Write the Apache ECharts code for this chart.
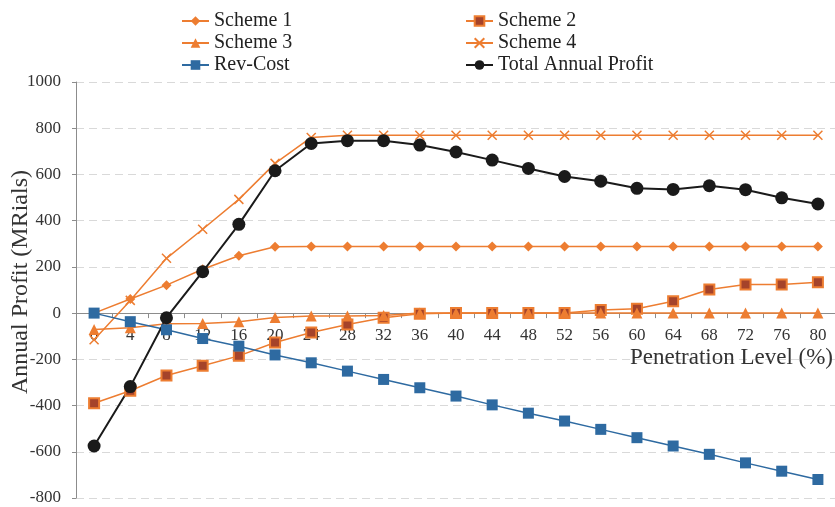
<!DOCTYPE html>
<html>
<head>
<meta charset="utf-8">
<script src="https://cdn.jsdelivr.net/npm/echarts@6/dist/echarts.min.js"></script>
<style>
  html, body { margin: 0; padding: 0; background: #fff; }
  #chart { width: 835px; height: 507px; }
</style>
</head>
<body>
<div id="chart"></div>
<script>
// Penetration levels (%)
const levels = ['0','4','8','12','16','20','24','28','32','36','40','44','48','52','56','60','64','68','72','76','80'];

// Annual profit per scheme (MRials)
const scheme1 = [0, 61, 121, 190, 248, 287, 288, 288, 288, 288, 288, 288, 288, 288, 288, 288, 288, 288, 288, 288, 288];
const scheme2 = [-390, -336, -270, -228, -185, -127, -84, -49, -20, -3, 0, 0, 0, 0, 13, 19, 51, 102, 124, 124, 133];
const scheme3 = [-71, -63, -46, -45, -37, -19, -13, -13, -10, 0, 0, 0, 0, 0, 0, 0, 0, 0, 0, 0, 0];
const scheme4 = [-115, 55, 237, 363, 492, 648, 760, 770, 770, 770, 770, 770, 770, 770, 770, 770, 770, 770, 770, 770, 770];
const revCost = [0, -37, -72, -110, -143, -181, -215, -251, -287, -323, -359, -397, -433, -467, -503, -539, -575, -611, -648, -684, -720];
const totalProfit = [-575, -318, -20, 179, 384, 616, 734, 746, 746, 727, 697, 662, 626, 591, 571, 540, 535, 551, 534, 499, 472];

const ORANGE = '#ED7D31';
const BLUE = '#2E6AA1';
const BROWN = '#A5432A';
const FONT = '"Liberation Serif", "DejaVu Serif", serif';
const GRID_BOTTOM = 9;

const chart = echarts.init(document.getElementById('chart'));

function lineSeries(name, data, color, symbol, size, extra) {
  return Object.assign({
    name: name,
    type: 'line',
    data: data,
    symbol: symbol,
    symbolSize: size,
    showAllSymbol: true,
    lineStyle: { color: color, width: 1.5 },
    itemStyle: { color: color, borderWidth: 0 },
    emphasis: { disabled: true },
    animation: false
  }, extra || {});
}

const legendText = { fontFamily: FONT, fontSize: 20, color: '#222' };

chart.setOption({
  backgroundColor: '#fff',
  animation: false,
  legend: [
    {
      left: 181, top: 11, orient: 'vertical', itemGap: 2, padding: 0,
      itemWidth: 27, itemHeight: 12,
      textStyle: legendText,
      data: ['Scheme 1', 'Scheme 3', 'Rev-Cost']
    },
    {
      left: 465, top: 11, orient: 'vertical', itemGap: 2, padding: 0,
      itemWidth: 27, itemHeight: 12,
      textStyle: legendText,
      data: ['Scheme 2', 'Scheme 4', 'Total Annual Profit']
    }
  ],
  grid: { left: 76, right: -1, top: 82, bottom: GRID_BOTTOM, containLabel: false, outerBoundsMode: 'none' },
  xAxis: [
    {
      // main category axis, crossing the value axis at zero
      type: 'category',
      data: levels,
      boundaryGap: true,
      axisLine: { onZero: true, lineStyle: { color: '#8c8c8c', width: 1 } },
      axisTick: { show: true, alignWithLabel: false, length: 5, lineStyle: { color: '#8c8c8c' } },
      axisLabel: { show: false },
      splitLine: { show: false },
      name: 'Penetration Level (%)',
      nameLocation: 'end',
      nameGap: -3,
      nameTextStyle: {
        fontFamily: FONT, fontSize: 23, color: '#333',
        align: 'right', verticalAlign: 'top', padding: [33, 0, 0, 0]
      }
    },
    {
      // label-only copy of the category axis, shifted up to the zero line
      type: 'category',
      data: levels,
      boundaryGap: true,
      position: 'bottom',
      offset: 0,
      axisLine: { show: false },
      axisTick: { show: false },
      axisLabel: { fontFamily: FONT, fontSize: 17, color: '#333', margin: 14 },
      splitLine: { show: false }
    }
  ],
  yAxis: {
    type: 'value',
    min: -800, max: 1000, interval: 200,
    axisLine: { show: true, lineStyle: { color: '#8c8c8c', width: 1 } },
    axisTick: { show: true, length: 4, lineStyle: { color: '#8c8c8c' } },
    axisLabel: { fontFamily: FONT, fontSize: 17, color: '#333', margin: 15, formatter: function (v) { return String(v); } },
    splitLine: { show: true, lineStyle: { color: '#d9d9d9', type: [8, 5], width: 1 } },
    name: 'Annual Profit (MRials)',
    nameLocation: 'middle',
    nameGap: 43,
    nameMoveOverlap: false,
    nameTextStyle: { fontFamily: FONT, fontSize: 24, color: '#333', padding: [0, 0, 0, 16] }
  },
  series: [
    lineSeries('Scheme 1', scheme1, ORANGE, 'diamond', 10),
    lineSeries('Scheme 2', scheme2, ORANGE, 'rect', 10, {
      itemStyle: { color: BROWN, borderColor: ORANGE, borderWidth: 2 }
    }),
    lineSeries('Scheme 3', scheme3, ORANGE, 'triangle', 11),
    lineSeries('Scheme 4', scheme4, ORANGE, 'path://M0,0L10,10M10,0L0,10', 9, {
      itemStyle: { color: 'none', borderColor: ORANGE, borderWidth: 1.5 }
    }),
    lineSeries('Rev-Cost', revCost, BLUE, 'rect', 11),
    lineSeries('Total Annual Profit', totalProfit, '#1a1a1a', 'circle', 13, {
      lineStyle: { color: '#1a1a1a', width: 2 }
    })
  ]
});

// place the label axis on the zero line of the value axis
const zeroY = chart.convertToPixel({ yAxisIndex: 0 }, 0);
const bottomY = chart.getHeight() - GRID_BOTTOM;
chart.setOption({ xAxis: [{}, { offset: zeroY - bottomY }] });
</script>
</body>
</html>
